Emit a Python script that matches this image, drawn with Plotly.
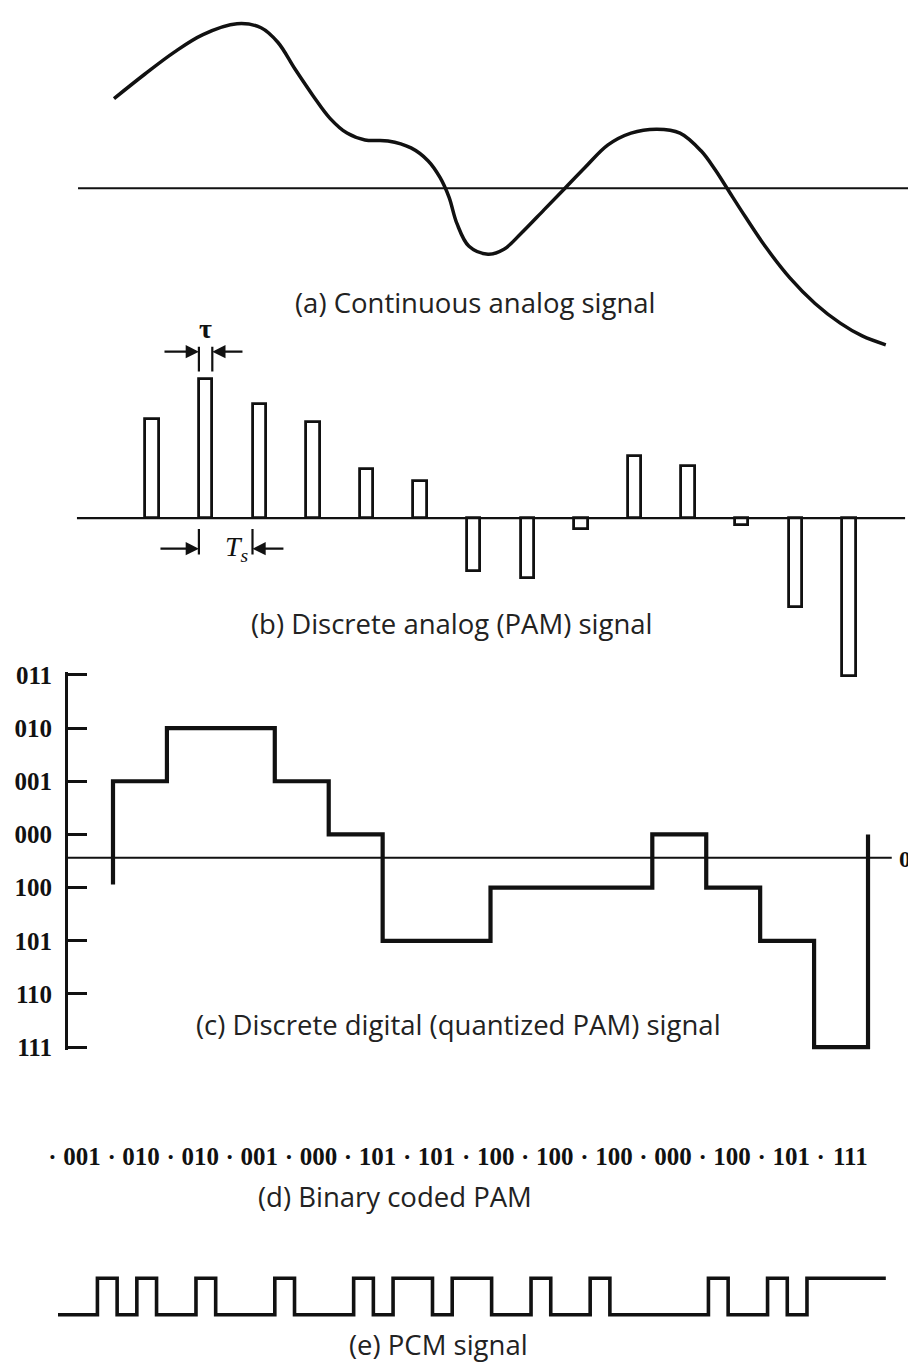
import plotly.graph_objects as go

W, H = 908, 1372

# ---------------- data ----------------
# (a) continuous analog signal: time in sample periods, amplitude in volts
analog_t = [-0.709, -0.131, 0.410, 0.951, 1.586, 2.034, 2.351, 2.668, 3.004, 3.321,
            3.638, 3.974, 4.403, 4.832, 5.149, 5.373, 5.541, 5.690, 5.914, 6.269,
            6.567, 6.884, 7.313, 7.705, 8.078, 8.507, 8.937, 9.422, 9.851, 10.243,
            10.504, 10.728, 11.07, 11.44, 11.90, 12.37, 12.84, 13.25, 13.69]
analog_v = [0.91, 1.16, 1.38, 1.56, 1.67, 1.63, 1.48, 1.21, 0.94, 0.71,
            0.56, 0.49, 0.48, 0.41, 0.28, 0.11, -0.09, -0.36, -0.59, -0.67,
            -0.62, -0.46, -0.22, 0.00, 0.21, 0.44, 0.56, 0.60, 0.56, 0.38,
            0.19, 0.00, -0.29, -0.59, -0.91, -1.17, -1.37, -1.50, -1.59]

# (b) PAM samples
sample_n = list(range(14))
pam_v = [1.01, 1.41, 1.16, 0.97, 0.50, 0.38, -0.54, -0.61, -0.11, 0.63, 0.53, -0.07, -0.90, -1.60]
pulse_width = 0.25  # tau, in sample periods

# (c)/(d) 3-bit sign-magnitude codes
codes = ["001", "010", "010", "001", "000", "101", "101",
         "100", "100", "100", "000", "100", "101", "111"]
level_codes = ["011", "010", "001", "000", "100", "101", "110", "111"]
stair_start, stair_end = -0.94, 0.0
zero_ref = -0.44

captions = ["(a) Continuous analog signal",
            "(b) Discrete analog (PAM) signal",
            "(c) Discrete digital (quantized PAM) signal",
            "(d) Binary coded PAM",
            "(e) PCM signal"]


def level(code):
    mag = int(code[1:], 2)
    return mag if code[0] == "0" else -(mag + 1)


# ---------------- helpers for pixel-true axes ----------------
def xax(px0, scale, left=0, right=W):
    return dict(domain=[left / W, right / W],
                range=[(left - px0) / scale, (right - px0) / scale],
                visible=False, fixedrange=True)


def yax(px0, scale, top, bottom):
    return dict(domain=[1 - bottom / H, 1 - top / H],
                range=[(px0 - bottom) / scale, (px0 - top) / scale],
                visible=False, fixedrange=True)


ink = "#111111"
serif = "Liberation Serif"
fig = go.Figure()

# (a) analog curve
fig.add_trace(go.Scatter(x=analog_t, y=analog_v, mode="lines", line_shape="spline",
                         line=dict(color=ink, width=3.5), xaxis="x", yaxis="y"))

# (b) PAM pulses
fig.add_trace(go.Bar(x=sample_n, y=pam_v, base=0, width=pulse_width,
                     marker=dict(color="white", line=dict(color=ink, width=2.8)),
                     xaxis="x2", yaxis="y2"))

# tau and Ts dimension marks (extension lines at the pulse edges)
half = pulse_width / 2
tx = [1 - half, 1 - half, None, 1 + half, 1 + half, None,
      1 - half, 1 - half, None, 2 - half, 2 - half]
ty = [1.49, 1.74, None, 1.49, 1.74, None, -0.11, -0.37, None, -0.11, -0.37]
fig.add_trace(go.Scatter(x=tx, y=ty, mode="lines", line=dict(color=ink, width=2.2),
                         xaxis="x2", yaxis="y2"))

# (c) quantized staircase
lv = [level(c) for c in codes]
sx = [0] + list(range(len(codes))) + [len(codes), len(codes)]
sy = [stair_start] + lv + [lv[-1], stair_end]
fig.add_trace(go.Scatter(x=sx, y=sy, mode="lines", line_shape="hv",
                         line=dict(color=ink, width=4.2), xaxis="x3", yaxis="y3"))
fig.add_trace(go.Scatter(x=[-0.834, 14.44], y=[zero_ref, zero_ref], mode="lines",
                         line=dict(color=ink, width=2), xaxis="x3", yaxis="y3"))

# (d) binary code words
idx = list(range(len(codes)))
fig.add_trace(go.Scatter(x=idx, y=[0] * len(codes), mode="text", text=codes,
                         textfont=dict(family=serif, size=25, color=ink, weight="bold"),
                         cliponaxis=False, xaxis="x4", yaxis="y4"))
fig.add_trace(go.Scatter(x=[i - 0.5 for i in idx], y=[0] * len(codes), mode="text",
                         text=["·"] * len(codes),
                         textfont=dict(family=serif, size=25, color=ink, weight="bold"),
                         cliponaxis=False, xaxis="x4", yaxis="y4"))

# (e) PCM bit stream
bits = [int(b) for c in codes for b in c]
px_ = list(range(len(bits) + 1))
py_ = bits + [bits[-1]]
fig.add_trace(go.Scatter(x=px_, y=py_, mode="lines", line_shape="hv",
                         line=dict(color=ink, width=3.6), xaxis="x5", yaxis="y5"))

# ---------------- layout ----------------
ann = []
# dimension arrows pointing in at the pulse edges
for tail, tip, yy in [(0.205, 1 - half, 1.69), (1.716, 1 + half, 1.69),
                      (0.13, 1 - half, -0.31), (2.48, 2 - half, -0.31)]:
    ann.append(dict(x=tip, y=yy, ax=tail, ay=yy, xref="x2", yref="y2",
                    axref="x2", ayref="y2", text="", showarrow=True, arrowhead=2,
                    arrowsize=1.2, arrowwidth=2.2, arrowcolor=ink, standoff=0))
ann += [
    dict(x=1, y=1.93, xref="x2", yref="y2", text="τ", showarrow=False,
         font=dict(family=serif, size=28, color=ink, weight="bold")),
    dict(x=1.58, y=-0.31, xref="x2", yref="y2", text="<i>T<sub>s</sub></i>",
         showarrow=False, font=dict(family=serif, size=28, color=ink)),
    dict(x=897 / W, y=1 - 862 / H, xref="paper", yref="paper", text="0",
         showarrow=False, xanchor="left",
         font=dict(family=serif, size=24, color=ink, weight="bold")),
]

cap_pos = [(476, 297), (452, 623), (458, 1030), (395, 1205), (438, 1355)]
for txt, (cx, cy) in zip(captions, cap_pos):
    ann.append(dict(x=cx / W, y=1 - cy / H, xref="paper", yref="paper", text=txt,
                    showarrow=False, xanchor="center", yanchor="middle",
                    font=dict(family="Open Sans", size=27.5, color="#222222")))

shapes = [
    dict(type="line", xref="x", yref="y", x0=-1.38, x1=14.2, y0=0, y1=0,
         line=dict(color=ink, width=2.2)),
    dict(type="line", xref="x2", yref="y2", x0=-1.40, x1=14.05, y0=0, y1=0,
         line=dict(color=ink, width=2.2)),
]

y3 = dict(domain=[1 - (837.25 + 54 * 4.06) / H, 1 - (837.25 - 54 * 3.06) / H],
          range=[-4.06, 3.06], visible=True, showgrid=False, zeroline=False,
          showline=True, linecolor=ink, linewidth=3, ticks="inside", ticklen=19,
          tickwidth=3, tickcolor=ink, tickvals=[level(c) for c in level_codes],
          ticktext=level_codes, ticklabelstandoff=8,
          tickfont=dict(family=serif, size=25, color=ink, weight="bold"), fixedrange=True)
x3 = xax(113, 53.93, left=68)

fig.update_layout(
    width=W, height=H, margin=dict(l=0, r=0, t=0, b=0),
    paper_bgcolor="white", plot_bgcolor="rgba(0,0,0,0)", showlegend=False,
    xaxis=xax(152, 53.6), yaxis=yax(181, 100, 0, 360),
    xaxis2=dict(xax(152, 53.6), anchor="y2"), yaxis2=dict(yax(516, 100, 320, 700), anchor="x2"),
    xaxis3=dict(x3, anchor="y3"), yaxis3=dict(y3, anchor="x3"),
    xaxis4=dict(xax(82, 59.1), anchor="y4"), yaxis4=dict(yax(1167, 10, 1140, 1195), anchor="x4"),
    xaxis5=dict(xax(58, 19.71), anchor="y5"), yaxis5=dict(yax(1325, 37, 1270, 1345), anchor="x5"),
    annotations=ann, shapes=shapes, bargap=0,
)

fig.write_html("out.html")
